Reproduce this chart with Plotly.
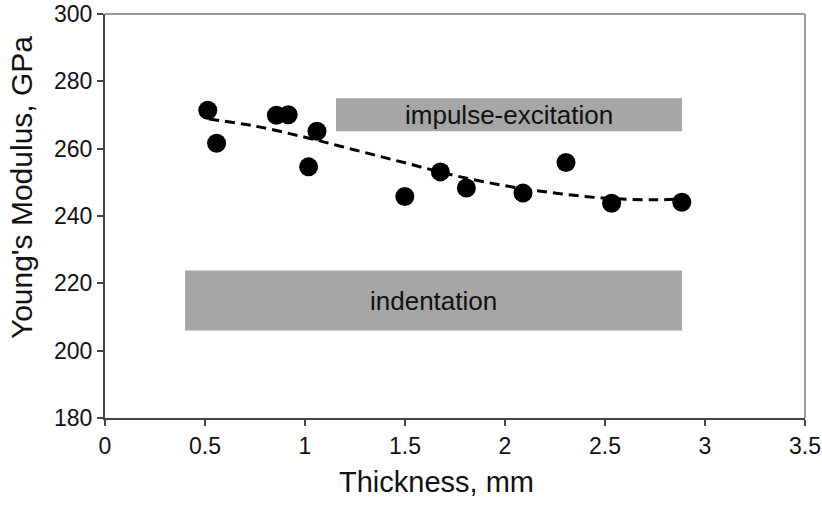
import plotly.graph_objects as go

# Measured data (thickness in mm, Young's modulus in GPa)
thickness = [0.514, 0.558, 0.857, 0.916, 1.018, 1.06, 1.499, 1.677, 1.807, 2.09, 2.305, 2.533, 2.884]
modulus = [271.4, 261.6, 269.9, 270.1, 254.6, 265.2, 245.8, 253.1, 248.3, 246.8, 255.9, 243.8, 244.1]

# Dashed trend line
trend_x = [0.52, 0.75, 1.0, 1.25, 1.5, 1.75, 2.0, 2.25, 2.5, 2.75, 2.9]
trend_y = [268.8, 266.7, 263.4, 259.6, 255.8, 252.0, 249.0, 246.8, 245.3, 244.8, 245.2]

# Shaded ranges: (label, x0, x1, y0, y1)
bands = [
    ("impulse-excitation", 1.155, 2.885, 265.2, 275.0),
    ("indentation", 0.40, 2.885, 206.0, 223.8),
]

x_ticks = [0, 0.5, 1, 1.5, 2, 2.5, 3, 3.5]
x_tick_text = ["0", "0.5", "1", "1.5", "2", "2.5", "3", "3.5"]
y_ticks = [180, 200, 220, 240, 260, 280, 300]
x_title = "Thickness, mm"
y_title = "Young's Modulus, GPa"

FONT = "Liberation Sans, Arial, sans-serif"

fig = go.Figure()

for label, x0, x1, y0, y1 in bands:
    fig.add_shape(type="rect", xref="x", yref="y", x0=x0, x1=x1, y0=y0, y1=y1,
                  fillcolor="#a6a6a6", line=dict(width=0), layer="below")
    fig.add_annotation(x=(x0 + x1) / 2, y=(y0 + y1) / 2, text=label, showarrow=False,
                       font=dict(family=FONT, size=26, color="#111111"))

fig.add_trace(go.Scatter(x=trend_x, y=trend_y, mode="lines",
                         line=dict(color="black", width=3, dash="10px,6px", shape="spline"),
                         hoverinfo="skip", showlegend=False))
fig.add_trace(go.Scatter(x=thickness, y=modulus, mode="markers",
                         marker=dict(color="black", size=19), showlegend=False))

# frame (top and right, light gray)
fig.add_shape(type="line", xref="paper", yref="paper", x0=0, x1=1, y0=1, y1=1,
              line=dict(color="#9a9a9a", width=2))
fig.add_shape(type="line", xref="paper", yref="paper", x0=1, x1=1, y0=0, y1=1,
              line=dict(color="#9a9a9a", width=2))

# axis titles (placed as in the reference, slightly off-centre)
fig.add_annotation(xref="paper", yref="paper", x=0.474, y=-0.158, text=x_title,
                   xanchor="center", yanchor="middle",
                   showarrow=False, font=dict(family=FONT, size=29, color="#111111"))
fig.add_annotation(xref="paper", yref="paper", x=-0.12, y=0.569, text=y_title, textangle=-90,
                   xanchor="center", yanchor="middle",
                   showarrow=False, font=dict(family=FONT, size=30, color="#111111"))

fig.update_layout(
    width=822, height=505,
    margin=dict(l=105, r=17, t=14, b=87),
    paper_bgcolor="white", plot_bgcolor="white",
    font=dict(family=FONT, color="#111111"),
    showlegend=False,
)
fig.update_xaxes(range=[0, 3.5], tickvals=x_ticks, ticktext=x_tick_text, automargin=False,
                 showgrid=False, zeroline=False, showline=True, linecolor="#444444", linewidth=2,
                 ticks="outside", ticklen=6, tickwidth=2, tickcolor="#444444",
                 tickfont=dict(size=23))
fig.update_yaxes(range=[180, 300], tickvals=y_ticks, automargin=False,
                 showgrid=False, zeroline=False, showline=True, linecolor="#444444", linewidth=2,
                 ticks="outside", ticklen=6, tickwidth=2, tickcolor="#444444",
                 tickfont=dict(size=23))

fig.write_html("out.html")
